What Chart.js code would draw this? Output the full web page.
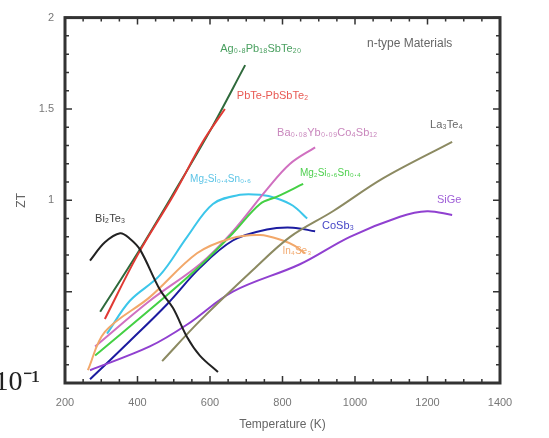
<!DOCTYPE html>
<html lang="en-US">
<head>
<meta charset="UTF-8">
<title>ZT vs Temperature - n-type</title>
<script src="https://cdn.jsdelivr.net/npm/chart.js@4/dist/chart.umd.min.js"></script>
<style>
  html, body { margin: 0; padding: 0; background: #fff; }
  #wrap { width: 549px; height: 438px; }
</style>
</head>
<body>
<div id="wrap"><canvas id="chart" width="549" height="438"></canvas></div>
<script>
// values: temperature (K) and ZT per material
var lastT   = [297, 400, 500, 600, 697];
var lastZT  = [0.39, 0.71, 1.04, 1.38, 1.74];

var pbteT   = [310, 400, 500, 580, 641];
var pbteZT  = [0.35, 0.70, 1.03, 1.32, 1.50];

var bitT    = [269, 310, 352, 379, 407, 462, 498, 537, 572, 622];
var bitZT   = [0.67, 0.77, 0.82, 0.79, 0.73, 0.51, 0.41, 0.25, 0.15, 0.06];

var mgsnT   = [316, 379, 462, 537, 608, 683, 738, 785, 829, 868];
var mgsnZT  = [0.27, 0.45, 0.59, 0.80, 0.98, 1.03, 1.03, 1.01, 0.97, 0.90];

var skutT   = [283, 434, 572, 663, 757, 821, 890];
var skutZT  = [0.20, 0.45, 0.65, 0.83, 1.06, 1.20, 1.29];

var mgsiT   = [283, 481, 572, 663, 738, 785, 857];
var mgsiZT  = [0.15, 0.48, 0.64, 0.82, 0.98, 1.02, 1.09];

var cosbT   = [269, 379, 481, 572, 663, 757, 829, 890];
var cosbZT  = [0.02, 0.23, 0.43, 0.63, 0.78, 0.84, 0.85, 0.83];

var sigeT   = [269, 434, 537, 663, 848, 986, 1124, 1199, 1268];
var sigeZT  = [0.07, 0.20, 0.32, 0.50, 0.65, 0.80, 0.91, 0.94, 0.92];

var lateT   = [468, 572, 719, 821, 939, 1077, 1268];
var lateZT  = [0.12, 0.34, 0.62, 0.80, 0.94, 1.12, 1.32];

var inseT   = [263, 310, 434, 564, 655, 738, 801, 834, 862];
var inseZT  = [0.07, 0.28, 0.47, 0.71, 0.79, 0.81, 0.78, 0.75, 0.71];

var xTicks  = [200, 400, 600, 800, 1000, 1200, 1400];

// curve labels: text, anchor temperature, anchor ZT, font size
var labelText = ['n-type Materials', 'Ag\u2080.\u2088Pb\u2081\u2088SbTe\u2082\u2080', 'PbTe-PbSbTe\u2082',
  'Ba\u2080.\u2080\u2088Yb\u2080.\u2080\u2089Co\u2084Sb\u2081\u2082', 'La\u2083Te\u2084',
  'Mg\u2082Si\u2080.\u2084Sn\u2080.\u2086', 'Mg\u2082Si\u2080.\u2086Sn\u2080.\u2084', 'SiGe', 'Bi\u2082Te\u2083',
  'CoSb\u2083', 'In\u2084Se\u2083'];
var labelT  = [1033, 628, 674, 785, 1207, 545, 848, 1226, 283, 909, 800];
var labelZT = [1.855, 1.83, 1.57, 1.37, 1.41, 1.115, 1.15, 1.0, 0.90, 0.86, 0.72];
var labelSize = [12, 11, 11, 11, 11, 10, 10, 11, 11, 11, 10];
var labelColor = ['#666', '#4aa060', '#e85a54', '#c987bd', '#666', '#5cc4e6', '#4fd04f',
  '#a060d8', '#444', '#4545c6', '#f2aa70'];

function pts(t, z) {
  return t.map(function (v, i) { return { x: v, y: z[i] }; });
}

function series(label, t, z, color) {
  return { label: label, data: pts(t, z), borderColor: color, backgroundColor: color,
           borderWidth: 2, pointRadius: 0, tension: 0.35, fill: false };
}

var frameTicks = {
  id: 'frameTicks',
  afterDraw: function (chart) {
    var ctx = chart.ctx, a = chart.chartArea;
    var xs = chart.scales.x, ys = chart.scales.y;
    ctx.save();
    ctx.strokeStyle = '#333';
    ctx.lineWidth = 1.5;
    ctx.beginPath();
    for (var v = 200; v <= 1400; v += 50) {
      var px = xs.getPixelForValue(v), len = (v % 200 === 0) ? 7 : 4;
      ctx.moveTo(px, a.bottom); ctx.lineTo(px, a.bottom - len);
      ctx.moveTo(px, a.top); ctx.lineTo(px, a.top + len);
    }
    for (var k = 0; k <= 20; k++) {
      var py = ys.getPixelForValue(k / 10), l2 = (k % 5 === 0) ? 7 : 4;
      ctx.moveTo(a.left, py); ctx.lineTo(a.left + l2, py);
      ctx.moveTo(a.right, py); ctx.lineTo(a.right - l2, py);
    }
    ctx.stroke();
    ctx.lineWidth = 3;
    ctx.strokeRect(a.left, a.top, a.right - a.left, a.bottom - a.top);

    ctx.textBaseline = 'middle';
    ctx.textAlign = 'left';
    for (var i = 0; i < labelText.length; i++) {
      ctx.font = labelSize[i] + 'px "Liberation Sans", Arial, sans-serif';
      ctx.fillStyle = labelColor[i];
      ctx.fillText(labelText[i], xs.getPixelForValue(labelT[i]), ys.getPixelForValue(labelZT[i]));
    }
    ctx.restore();
  }
};

new Chart(document.getElementById('chart').getContext('2d'), {
  type: 'line',
  data: {
    datasets: [
      series('Bi2Te3', bitT, bitZT, '#222222'),
      series('La3Te4', lateT, lateZT, '#8c8a62'),
      series('SiGe', sigeT, sigeZT, '#9040d0'),
      series('In4Se3', inseT, inseZT, '#f2a86a'),
      series('Mg2Si0.6Sn0.4', mgsiT, mgsiZT, '#44d044'),
      series('Ba Yb Co4Sb12', skutT, skutZT, '#d070c0'),
      series('CoSb3', cosbT, cosbZT, '#1c1ca0'),
      series('Mg2Si0.4Sn0.6', mgsnT, mgsnZT, '#3cc6ea'),
      series('PbTe-PbSbTe2', pbteT, pbteZT, '#e03a34'),
      series('Ag0.8Pb18SbTe20', lastT, lastZT, '#2f6a3c')
    ]
  },
  options: {
    responsive: false,
    animation: false,
    layout: { padding: { top: 10, right: 49, left: 0, bottom: 0 } },
    plugins: { legend: { display: false }, tooltip: { enabled: false } },
    scales: {
      x: {
        type: 'linear', min: 200, max: 1400,
        afterBuildTicks: function (s) { s.ticks = xTicks.map(function (v) { return { value: v }; }); },
        afterFit: function (s) { s.height = 55; },
        grid: { display: false, drawTicks: false },
        border: { display: false },
        ticks: { padding: 13, color: '#777', font: { family: '"Liberation Sans", Arial, sans-serif', size: 11 },
                 callback: function (v) { return String(v); } },
        title: { display: true, text: 'Temperature (K)', color: '#666', padding: { top: 4, bottom: 6 },
                 font: { family: '"Liberation Sans", Arial, sans-serif', size: 12 } }
      },
      y: {
        type: 'linear', min: 0, max: 2,
        afterFit: function (s) { s.width = 65; },
        grid: { display: false, drawTicks: false },
        border: { display: false },
        ticks: {
          stepSize: 0.5,
          padding: 11,
          color: function (c) { return c.tick && c.tick.value === 0 ? '#222' : '#777'; },
          font: function (c) {
            if (c.tick && c.tick.value === 0) return { family: '"Liberation Serif", "Times New Roman", serif', size: 28 };
            return { family: '"Liberation Sans", Arial, sans-serif', size: 11 };
          },
          callback: function (v) {
            if (v === 0) return '10\u207B\u00B9  ';
            if (v === 0.5) return '';
            return String(v);
          }
        },
        title: { display: true, text: 'ZT', color: '#666', padding: { top: 14, bottom: 0 },
                 font: { family: '"Liberation Sans", Arial, sans-serif', size: 12 } }
      }
    }
  },
  plugins: [frameTicks]
});
</script>
</body>
</html>
